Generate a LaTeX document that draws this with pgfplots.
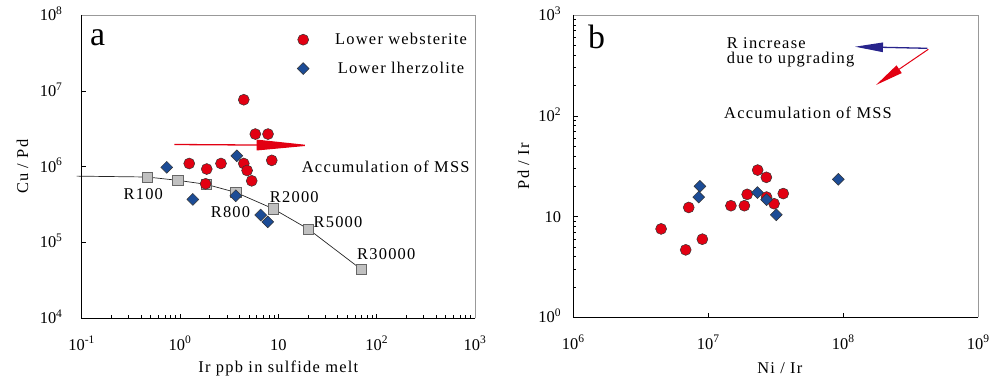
\documentclass[border=0pt]{standalone}
\usepackage{fontspec}
\setmainfont{Liberation Serif}
\newfontfamily\trk{Liberation Serif}[LetterSpace=7.5]
\usepackage{pgfplots}
\pgfplotsset{compat=1.18}
\usetikzlibrary{arrows.meta}
\definecolor{mred}{RGB}{226,0,18}
\definecolor{mblue}{RGB}{28,76,150}
\definecolor{mgray}{RGB}{192,192,192}
\definecolor{navy}{RGB}{40,36,140}
\newcommand{\tf}{\trk\fontsize{16.5}{18}\selectfont}
\pgfplotsset{
  every axis/.append style={
    scale only axis, xmode=log, ymode=log,
    axis line style={draw=none},
    tick pos=left, tick align=inside,
    major tick length=4.5bp, minor tick length=3bp,
    tick style={black, line width=0.5pt},
    ticklabel style={font=\fontsize{16.5}{18}\selectfont, inner sep=0pt},
    xticklabel style={anchor=base, yshift=-31.7bp},
    label style={font=\tf},
    clip=false,
  },
}
\tikzset{
  redm/.style={only marks, mark=*, mark size=5.5bp, mark options={fill=mred, draw=black!80, line width=0.5pt}},
  bluem/.style={only marks, mark=square*, mark size=4.2bp, mark options={rotate=45, fill=mblue, draw=black!80, line width=0.5pt}},
}
\begin{document}
\begin{tikzpicture}[x=1bp,y=1bp]
\useasboundingbox (0,0) rectangle (997,376);
% ---------------- panel a
\begin{axis}[
  at={(81.7bp,57.7bp)}, anchor=south west, width=393.3bp, height=303.3bp,
  xmin=0.1, xmax=1000, ymin=1e4, ymax=1e8,
  xtick={0.1,1,10,100,1000},
  xticklabels={10\textsuperscript{-1},10\textsuperscript{0},10,10\textsuperscript{2},10\textsuperscript{3}},
  ytick={1e4,1e5,1e6,1e7,1e8},
  yticklabels={10\textsuperscript{4},10\textsuperscript{5},10\textsuperscript{6},10\textsuperscript{7},10\textsuperscript{8}},
  yminorticks=false,
  yticklabel style={anchor=base east, xshift=-19bp, yshift=-5.5bp},
  xlabel={Ir ppb in sulfide melt}, ylabel={Cu / Pd},
  xlabel style={at={(axis description cs:0.5,-0.1794)}, anchor=base},
  ylabel style={at={(axis description cs:-0.1365,0.5)}, anchor=base},
  legend style={at={(axis description cs:0.5474,0.947)}, anchor=north west, draw=none, fill=none, inner sep=0pt, row sep=12bp, font=\tf},
  legend image code/.code={\path[draw=none, fill=none] (-6bp,-6bp) rectangle (30bp,6bp); \draw[#1] plot coordinates {(0bp,0bp)};},
]
\addplot[forget plot, black!85, line width=0.7pt] coordinates {(0.089,7.5e5) (0.465,7.3e5) (0.948,6.6e5) (1.84,5.85e5) (3.69,4.58e5) (8.83,2.79e5) (20.2,1.50e5) (69.8,4.41e4)};
\addplot[forget plot, only marks, mark=square*, mark size=5.2bp, mark options={fill=mgray, draw=black!60, line width=0.6pt}] coordinates {(0.465,7.3e5) (0.948,6.6e5) (1.84,5.85e5) (3.69,4.58e5) (8.83,2.79e5) (20.2,1.50e5) (69.8,4.41e4)};
\addplot[redm] coordinates {(4.45,7.63e6) (5.83,2.69e6) (7.85,2.69e6) (8.57,1.21e6) (1.24,1.10e6) (1.87,9.3e5) (2.61,1.10e6) (4.45,1.10e6) (4.81,8.9e5) (5.36,6.5e5) (1.82,5.94e5)};
\addlegendentry{Lower websterite}
\addplot[bluem] coordinates {(0.733,9.8e5) (1.35,3.7e5) (3.78,1.39e6) (3.69,4.13e5) (6.62,2.3e5) (7.8,1.87e5)};
\addlegendentry{Lower lherzolite}
\draw[gray!80, line width=0.8bp] (rel axis cs:0,1) -- (rel axis cs:1,1) -- (rel axis cs:1,0);
\draw[black, line width=1.4bp] (rel axis cs:0,1) -- (rel axis cs:0,0) -- (rel axis cs:1,0);
\end{axis}
% ---------------- panel b
\begin{axis}[
  at={(573.3bp,58.7bp)}, anchor=south west, width=405bp, height=302.3bp,
  xmin=1e6, xmax=1e9, ymin=1, ymax=1000,
  xtick={1e6,1e7,1e8,1e9},
  xticklabels={10\textsuperscript{6},10\textsuperscript{7},10\textsuperscript{8},10\textsuperscript{9}},
  ytick={1,10,100,1000},
  yticklabels={10\textsuperscript{0},10,10\textsuperscript{2},10\textsuperscript{3}},
  xminorticks=false,
  yticklabel style={anchor=base east, xshift=-12bp, yshift=-5.5bp},
  xlabel={Ni / Ir}, ylabel={Pd / Ir},
  xlabel style={at={(axis description cs:0.51,-0.185)}, anchor=base},
  ylabel style={at={(axis description cs:-0.109,0.5)}, anchor=base},
]
\addplot[redm] coordinates {(4.47e6,7.54) (6.8e6,4.67) (9.03e6,5.96) (7.16e6,12.3) (1.47e7,12.8) (1.85e7,12.8) (1.94e7,16.6) (2.32e7,28.9) (2.69e7,24.5) (2.7e7,15.6) (3.07e7,13.4) (3.59e7,16.9)};
\addplot[bluem] coordinates {(8.67e6,19.95) (8.49e6,15.6) (2.31e7,17.3) (2.70e7,14.7) (3.19e7,10.4) (9.18e7,23.4)};
\draw[gray!80, line width=0.8bp] (rel axis cs:0,1) -- (rel axis cs:1,1) -- (rel axis cs:1,0);
\draw[black, line width=1.4bp] (rel axis cs:0,1) -- (rel axis cs:0,0) -- (rel axis cs:1,0);
\end{axis}
% ---------------- annotations
\node[font=\fontsize{34}{36}\selectfont, anchor=base west, inner sep=0pt] at (90,331) {a};
\node[font=\fontsize{34}{36}\selectfont, anchor=base west, inner sep=0pt] at (588,327.7) {b};
\node[font=\tf, anchor=base west, inner sep=0pt] at (301.7,203.3) {Accumulation of MSS};
\begin{scope}[every node/.style={font=\tf, inner sep=0pt, anchor=center}]
\node at (143.3,182.2) {R100};
\node at (230.5,164) {R800};
\node at (294.3,179) {R2000};
\node at (338,154) {R5000};
\node at (386.3,122.2) {R30000};
\end{scope}
\draw[mred, line width=1.3bp, -{Triangle[length=55bp, width=10.5bp]}] (174.3,231.5) -- (311.7,230.6);
\node[font=\tf, anchor=base west, inner sep=0pt] at (726.7,327.5) {R increase};
\node[font=\tf, anchor=base west, inner sep=0pt] at (726.7,312.7) {due to upgrading};
\node[font=\tf, anchor=base west, inner sep=0pt] at (724,257.7) {Accumulation of MSS};
\draw[navy, line width=1.3bp, -{Triangle[length=28bp,width=9.4bp]}] (927.3,327.7) -- (855,329.3);
\draw[mred, line width=1bp, -{Triangle[length=28bp,width=9bp]}] (928.3,326.7) -- (876,291);
\end{tikzpicture}
\end{document}
